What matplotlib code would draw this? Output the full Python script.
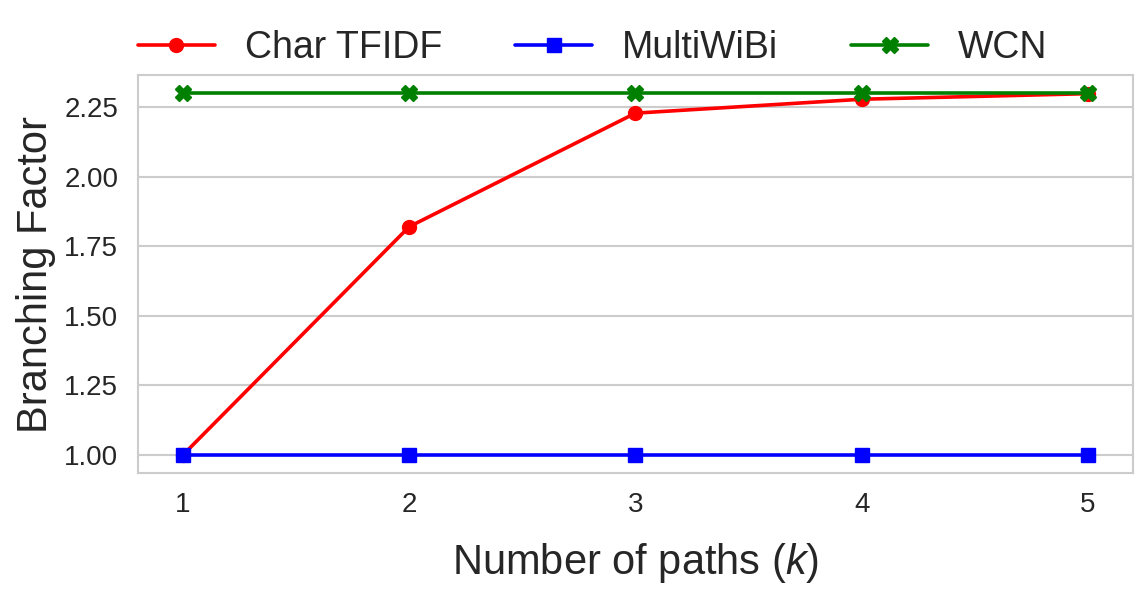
import matplotlib
matplotlib.use("Agg")
import matplotlib.pyplot as plt
import seaborn as sns

k_values = [1, 2, 3, 4, 5]
char_tfidf = [1.00, 1.82, 2.228, 2.278, 2.298]
multiwibi = [1.00, 1.00, 1.00, 1.00, 1.00]
wcn = [2.30, 2.30, 2.30, 2.30, 2.30]
y_ticks = [1.00, 1.25, 1.50, 1.75, 2.00, 2.25]
x_ticks = [1, 2, 3, 4, 5]

sns.set_theme(style="whitegrid")
plt.rcParams['font.family'] = ['Liberation Sans', 'DejaVu Sans']
plt.rcParams['mathtext.fontset'] = 'custom'
plt.rcParams['mathtext.it'] = 'Liberation Sans:italic'
plt.rcParams['mathtext.rm'] = 'Liberation Sans'

fig = plt.figure(figsize=(11.48, 6.06), dpi=100)
ax = fig.add_axes([0.120, 0.2195, 0.867, 0.6567])

ax.plot(k_values, char_tfidf, color='red', marker='o', lw=2.6, ms=10, label='Char TFIDF')
ax.plot(k_values, multiwibi, color='blue', marker='s', lw=2.6, ms=10, label='MultiWiBi')
ax.plot(k_values, wcn, color='green', marker='X', lw=2.6, ms=11, label='WCN')

ax.set_xlim(0.8, 5.2)
ax.set_xticks(x_ticks)
ax.set_yticks(y_ticks)
ax.set_yticklabels([f"{v:.2f}" for v in y_ticks])
ax.grid(axis='x', visible=False)
ax.grid(axis='y', color='#cccccc', lw=1.5)
for s in ax.spines.values():
    s.set_color('#cccccc')
    s.set_linewidth(1.5)
ax.tick_params(axis='both', labelsize=20, colors='#262626', pad=8)

ax.set_xlabel('Number of paths ($\\it{k}$)', fontsize=30, color='#262626', labelpad=16)
ax.set_ylabel('Branching Factor', fontsize=30, color='#262626', labelpad=6)

ax.legend(loc='lower left', bbox_to_anchor=(0.0, 1.022), ncol=3, frameon=False,
          fontsize=27, handlelength=2.05, columnspacing=1.95, handletextpad=0.8,
          borderaxespad=0.0, borderpad=0.0)

fig.savefig('out.png', dpi=100)
